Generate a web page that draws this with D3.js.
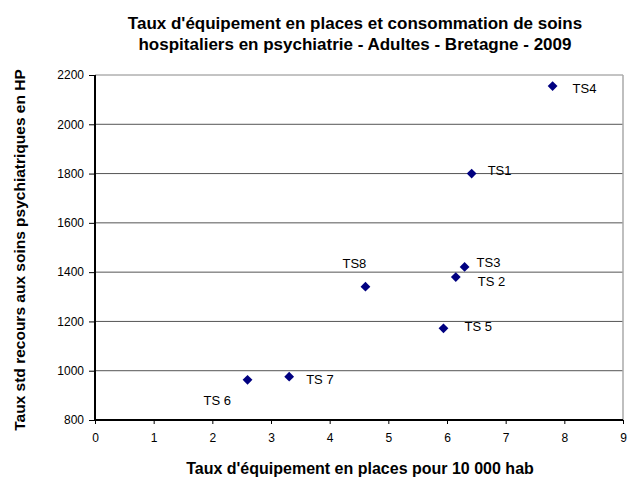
<!DOCTYPE html>
<html>
<head>
<meta charset="utf-8">
<script src="https://cdn.jsdelivr.net/npm/d3@7"></script>
<style>
  body { margin: 0; background: #fff; }
  text { font-family: "Liberation Sans", Arial, sans-serif; }
</style>
</head>
<body>
<svg id="chart" width="637" height="479"></svg>
<script>
// data
var names = ["TS1", "TS 2", "TS3", "TS4", "TS 5", "TS 6", "TS 7", "TS8"];
var places = [6.42, 6.15, 6.30, 7.80, 5.94, 2.60, 3.31, 4.61];
var recours = [1800, 1380, 1421, 2155, 1172, 963, 976, 1341];
var xTicks = [0, 1, 2, 3, 4, 5, 6, 7, 8, 9];
var yTicks = [800, 1000, 1200, 1400, 1600, 1800, 2000, 2200];

// where each label sits next to its marker (dx, dy in px)
var labelPos = [[16, 1], [22, 9], [12, 0], [20, 7], [21, 3], [-44, 25], [17, 7], [-23, -19]];

var svg = d3.select("#chart");
var mLeft = 95, mRight = 623, mTop = 75, mBottom = 420;

var x = d3.scaleLinear().domain([0, 9]).range([mLeft, mRight]);
var y = d3.scaleLinear().domain([800, 2200]).range([mBottom, mTop]);

// gridlines
svg.append("g").selectAll("line")
	.data(yTicks.slice(1, -1))
	.enter().append("line")
	.attr("x1", mLeft).attr("x2", mRight)
	.attr("y1", function(d){ return y(d); })
	.attr("y2", function(d){ return y(d); })
	.attr("stroke", "#555").attr("stroke-width", 1);

// plot border top / right
svg.append("line").attr("x1", mLeft).attr("x2", mRight).attr("y1", y(2200)).attr("y2", y(2200))
	.attr("stroke", "#888").attr("stroke-width", 1);
svg.append("line").attr("x1", mRight).attr("x2", mRight).attr("y1", mTop).attr("y2", mBottom)
	.attr("stroke", "#aaa").attr("stroke-width", 1.5);

// axes
var xAxis = d3.axisBottom(x).tickValues(xTicks).tickSize(4).tickPadding(9);
var yAxis = d3.axisLeft(y).tickValues(yTicks).tickSize(6).tickPadding(5).tickFormat(d3.format("d"));

var gx = svg.append("g").attr("transform", "translate(0," + mBottom + ")").call(xAxis);
var gy = svg.append("g").attr("transform", "translate(" + mLeft + ",0)").call(yAxis);

[gx, gy].forEach(function(g){
	g.attr("font-family", null);
	g.select(".domain").attr("stroke", "#000").attr("stroke-width", 2);
	g.selectAll(".tick line").attr("stroke", "#000").attr("stroke-width", 1);
	g.selectAll(".tick text").attr("fill", "#000")
		.style("font-family", "'Liberation Sans', Arial, sans-serif").style("font-size", "12px");
});
gx.select(".domain").attr("d", "M" + mLeft + ",0H" + mRight);
gy.select(".domain").attr("d", "M0," + mTop + "V" + mBottom);

// markers
var pts = names.map(function(n, i){ return {name: n, x: places[i], y: recours[i], pos: labelPos[i]}; });

svg.append("g").selectAll("path")
	.data(pts)
	.enter().append("path")
	.attr("d", d3.symbol().type(d3.symbolSquare).size(48))
	.attr("transform", function(d){ return "translate(" + x(d.x) + "," + y(d.y) + ") rotate(45)"; })
	.attr("fill", "#000080");

svg.append("g").selectAll("text")
	.data(pts)
	.enter().append("text")
	.attr("x", function(d){ return x(d.x) + d.pos[0]; })
	.attr("y", function(d){ return y(d.y) + d.pos[1]; })
	.style("font-size", "13px")
	.text(function(d){ return d.name; });

// titles
var title = ["Taux d'équipement en places et consommation de soins",
	"hospitaliers en psychiatrie - Adultes - Bretagne - 2009"];
svg.append("text")
	.attr("text-anchor", "middle")
	.style("font-size", "17px").style("font-weight", "bold")
	.selectAll("tspan").data(title).enter().append("tspan")
	.attr("x", 355)
	.attr("y", function(d, i){ return 29 + i * 21; })
	.text(function(d){ return d; });

svg.append("text")
	.attr("x", 360).attr("y", 474)
	.attr("text-anchor", "middle")
	.style("font-size", "16px").style("font-weight", "bold")
	.text("Taux d'équipement  en places  pour 10 000 hab");

svg.append("text")
	.attr("transform", "translate(25,250) rotate(-90)")
	.attr("text-anchor", "middle")
	.style("font-size", "15.5px").style("font-weight", "bold")
	.text("Taux std recours aux soins psychiatriques  en HP");
</script>
</body>
</html>
